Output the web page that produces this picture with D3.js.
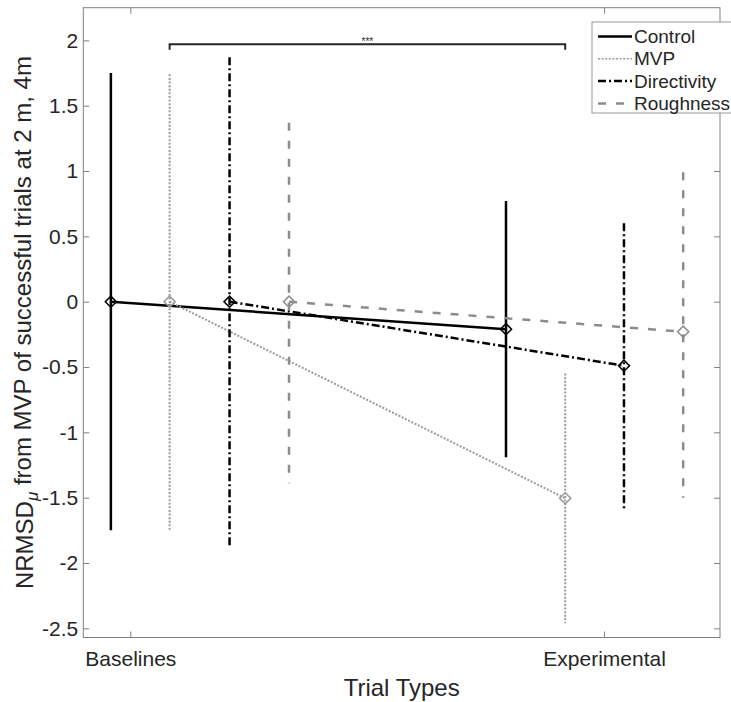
<!DOCTYPE html>
<html><head><meta charset="utf-8">
<script src="https://cdn.jsdelivr.net/npm/d3@7"></script>
<style>
body{margin:0;background:#fff}
svg text{font-family:"Liberation Sans",Arial,Helvetica,sans-serif;fill:#262626}
</style>
</head><body><svg id="c" width="731" height="702"></svg>
<script>
// ---------- data ----------
const categories = ["Baselines", "Experimental"];
const seriesNames = ["Control", "MVP", "Directivity", "Roughness"];
const meanBaseline = [0, 0, 0, 0];
const upperBaseline = [1.75, 1.74, 1.87, 1.37];
const lowerBaseline = [-1.75, -1.745, -1.875, -1.39];
const meanExperimental = [-0.21, -1.505, -0.49, -0.23];
const upperExperimental = [0.77, -0.55, 0.60, 0.99];
const lowerExperimental = [-1.19, -2.46, -1.58, -1.50];
const yTicks = [-2.5, -2, -1.5, -1, -0.5, 0, 0.5, 1, 1.5, 2];
const sigLabel = "***";
const sigLevel = 1.97;
const sigSeries = "MVP";

// ---------- layout / style ----------
const W = 731, H = 702;
const L = 83.3, R = 720, T = 7.7, B = 637.5;
const baseOffsets = [-0.041, 0.083, 0.2095, 0.335];
const expOffsets = [-0.207, -0.082, 0.042, 0.167];
const styles = {
  Control:     {stroke: "#000",    width: 2.5, dash: null},
  MVP:         {stroke: "#9a9a9a", width: 2,   dash: "2,1.6"},
  Directivity: {stroke: "#000",    width: 2.5, dash: "8,3,2,3"},
  Roughness:   {stroke: "#8c8c8c", width: 2.5, dash: "8,10"}
};

const svg = d3.select("#c");
svg.append("rect").attr("width", W).attr("height", H).attr("fill", "#fff");

const x = d3.scaleLinear().domain([0.9008, 2.2447]).range([L, R]);
const y = d3.scaleLinear().domain([-2.57, 2.25]).range([B, T]);

const axisColor = "#808080";

// box
svg.append("rect").attr("x", L).attr("y", T).attr("width", R - L).attr("height", B - T)
  .attr("fill", "none").attr("stroke", axisColor).attr("stroke-width", 1);

// axes
const fmt = d => String(d);
const gy = svg.append("g").attr("transform", `translate(${L},0)`)
  .call(d3.axisLeft(y).tickValues(yTicks).tickFormat(fmt).tickSizeInner(-6).tickSizeOuter(0).tickPadding(5));
const gyr = svg.append("g").attr("transform", `translate(${R},0)`)
  .call(d3.axisRight(y).tickValues(yTicks).tickFormat("").tickSizeInner(-6).tickSizeOuter(0));
const gx = svg.append("g").attr("transform", `translate(0,${B})`)
  .call(d3.axisBottom(x).tickValues([1, 2]).tickFormat(d => categories[d - 1]).tickSizeInner(-6).tickSizeOuter(0).tickPadding(13.6));
const gxt = svg.append("g").attr("transform", `translate(0,${T})`)
  .call(d3.axisTop(x).tickValues([1, 2]).tickFormat("").tickSizeInner(-6).tickSizeOuter(0));
[gy, gyr, gx, gxt].forEach(g => {
  g.select(".domain").remove();
  g.selectAll(".tick line").attr("stroke", axisColor);
  g.selectAll("text").attr("font-size", 21).attr("fill", "#262626")
    .style("font-family", '"Liberation Sans",Arial,sans-serif');
});

// axis labels
svg.append("text").attr("x", (L + R) / 2).attr("y", 696).attr("text-anchor", "middle")
  .attr("font-size", 24).text("Trial Types");
const yl = svg.append("text").attr("transform", `translate(33,${(T + B) / 2}) rotate(-90)`)
  .attr("text-anchor", "middle").attr("font-size", 24);
yl.append("tspan").text("NRMSD");
yl.append("tspan").attr("font-style", "italic").attr("font-size", 17).attr("dy", "0.3em").text("\u03bc");
yl.append("tspan").attr("dy", "-0.3em").text(" from MVP of successful trials at 2 m, 4m");

// data series
const plot = svg.append("g");
seriesNames.forEach((name, i) => {
  const st = styles[name];
  const pts = [
    {cx: 1 + baseOffsets[i], m: meanBaseline[i], lo: lowerBaseline[i], hi: upperBaseline[i]},
    {cx: 2 + expOffsets[i], m: meanExperimental[i], lo: lowerExperimental[i], hi: upperExperimental[i]}
  ];
  const g = plot.append("g");
  const apply = sel => sel.attr("stroke", st.stroke).attr("stroke-width", st.width)
    .attr("stroke-dasharray", st.dash).attr("fill", "none");
  pts.forEach(p => {
    g.append("line").attr("x1", x(p.cx)).attr("x2", x(p.cx)).attr("y1", y(p.hi)).attr("y2", y(p.lo)).call(apply);
  });
  g.append("path").attr("d", d3.line().x(p => x(p.cx)).y(p => y(p.m))(pts)).call(apply);
  const sym = d3.symbol(d3.symbolSquare, 62);
  pts.forEach(p => {
    g.append("path").attr("d", sym()).attr("transform", `translate(${x(p.cx)},${y(p.m)}) rotate(45)`)
      .attr("fill", "none").attr("stroke", st.stroke).attr("stroke-width", 1.5);
  });
});

// significance bracket
const si = seriesNames.indexOf(sigSeries);
const bx1 = x(1 + baseOffsets[si]), bx2 = x(2 + expOffsets[si]), by = y(sigLevel);
svg.append("path").attr("d", `M${bx1},${by + 5.5}V${by}H${bx2}V${by + 5.5}`)
  .attr("fill", "none").attr("stroke", "#262626").attr("stroke-width", 2);
svg.append("text").attr("x", (bx1 + bx2) / 2).attr("y", by + 0.3).attr("text-anchor", "middle")
  .attr("font-size", 10).text(sigLabel);

// legend
const lg = svg.append("g");
lg.append("rect").attr("x", 592).attr("y", 22).attr("width", 160).attr("height", 91)
  .attr("fill", "#fff").attr("stroke", "#999").attr("stroke-width", 1);
seriesNames.forEach((name, i) => {
  const st = styles[name];
  const cy = 36.5 + i * 22.3;
  lg.append("line").attr("x1", 598).attr("x2", 632).attr("y1", cy).attr("y2", cy)
    .attr("stroke", st.stroke).attr("stroke-width", name === "MVP" ? 1.5 : st.width)
    .attr("stroke-dasharray", st.dash);
  lg.append("text").attr("x", 634).attr("y", cy).attr("dy", "0.35em").attr("font-size", 19).text(name);
});
</script>
</body></html>
